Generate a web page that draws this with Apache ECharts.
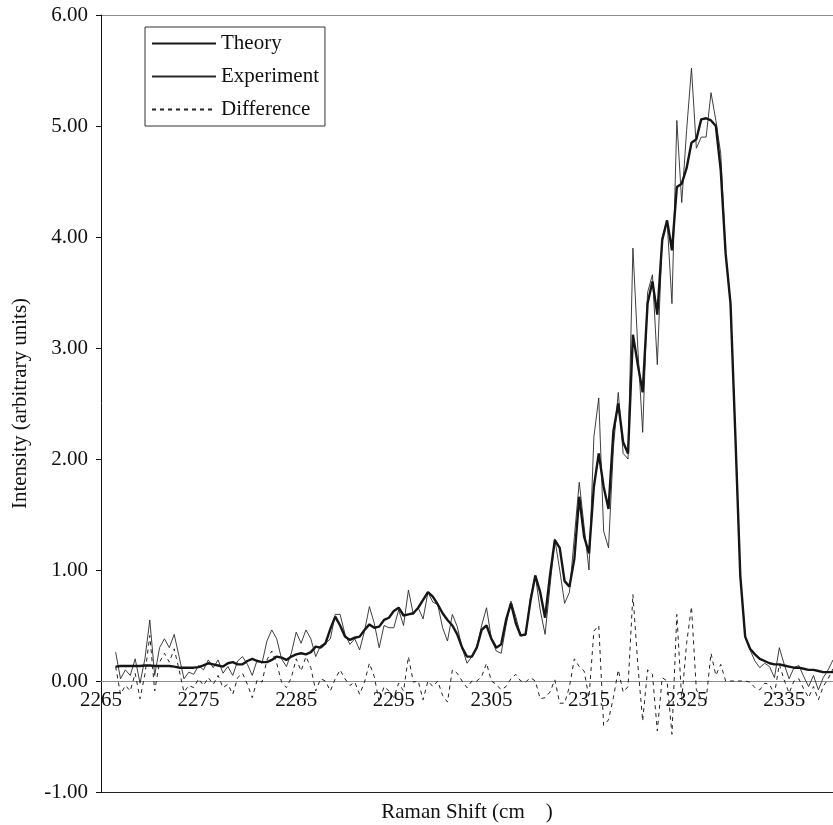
<!DOCTYPE html>
<html>
<head>
<meta charset="utf-8">
<script src="https://cdn.jsdelivr.net/npm/echarts@6/dist/echarts.min.js"></script>
<style>
  html, body { margin: 0; padding: 0; background: #ffffff; }
  #chart { width: 833px; height: 825px; }
</style>
</head>
<body>
<div id="chart"></div>
<script>
// Raman band: calculated spectrum, measured spectrum and their residual.
// Samples are spaced 0.5 cm-1 apart, starting at 2266.5 cm-1.
const FIRST_SHIFT = 2266.5;
const SHIFT_STEP = 0.5;

const theory = [
  0.13, 0.135, 0.135, 0.135, 0.135, 0.135, 0.14, 0.14, 0.135, 0.135,
  0.135, 0.135, 0.13, 0.12, 0.12, 0.12, 0.12, 0.125, 0.14, 0.16,
  0.15, 0.14, 0.13, 0.16, 0.17, 0.15, 0.15, 0.18, 0.20, 0.18,
  0.17, 0.17, 0.19, 0.22, 0.21, 0.19, 0.22, 0.24, 0.25, 0.24,
  0.26, 0.31, 0.30, 0.34, 0.47, 0.58, 0.50, 0.40, 0.37, 0.39,
  0.40, 0.46, 0.51, 0.48, 0.49, 0.55, 0.57, 0.63, 0.66, 0.59,
  0.60, 0.61, 0.66, 0.73, 0.80, 0.76, 0.69, 0.61, 0.55, 0.50,
  0.42, 0.30, 0.22, 0.22, 0.30, 0.46, 0.50, 0.38, 0.30, 0.33,
  0.55, 0.70, 0.52, 0.41, 0.42, 0.72, 0.95, 0.80, 0.57, 0.95,
  1.27, 1.20, 0.90, 0.85, 1.10, 1.66, 1.30, 1.15, 1.75, 2.05,
  1.75, 1.55, 2.25, 2.50, 2.15, 2.05, 3.12, 2.85, 2.60, 3.40,
  3.60, 3.30, 3.97, 4.15, 3.88, 4.45, 4.48, 4.62, 4.85, 4.88,
  5.06, 5.07, 5.05, 5.00, 4.60, 3.85, 3.40, 2.20, 0.95, 0.40,
  0.29, 0.24, 0.20, 0.18, 0.16, 0.15, 0.15, 0.14, 0.13, 0.12,
  0.12, 0.11, 0.10, 0.10, 0.09, 0.08, 0.08, 0.08
];

const experiment = [
  0.26, 0.02, 0.10, 0.05, 0.20, -0.02, 0.20, 0.55, 0.05, 0.30,
  0.38, 0.30, 0.42, 0.22, 0.02, 0.08, 0.06, 0.14, 0.10, 0.19,
  0.12, 0.19, 0.07, 0.13, 0.05, 0.18, 0.22, 0.15, 0.05, 0.19,
  0.16, 0.36, 0.46, 0.38, 0.20, 0.13, 0.25, 0.44, 0.34, 0.46,
  0.38, 0.22, 0.32, 0.34, 0.38, 0.60, 0.60, 0.42, 0.33, 0.38,
  0.28, 0.45, 0.67, 0.52, 0.30, 0.50, 0.48, 0.48, 0.64, 0.50,
  0.82, 0.60, 0.66, 0.56, 0.80, 0.71, 0.69, 0.48, 0.36, 0.60,
  0.49, 0.30, 0.16, 0.22, 0.30, 0.50, 0.66, 0.38, 0.27, 0.25,
  0.50, 0.72, 0.58, 0.41, 0.41, 0.75, 0.95, 0.64, 0.42, 0.85,
  1.28, 1.00, 0.70, 0.80, 1.30, 1.79, 1.39, 1.00, 2.20, 2.55,
  1.35, 1.20, 2.10, 2.60, 2.05, 2.00, 3.90, 3.00, 2.24, 3.50,
  3.66, 2.85, 4.00, 4.15, 3.40, 5.05, 4.31, 4.96, 5.52, 4.80,
  4.90, 4.90, 5.30, 5.05, 4.75, 3.85, 3.40, 2.20, 0.95, 0.40,
  0.28, 0.18, 0.12, 0.16, 0.13, 0.03, 0.30, 0.15, 0.02, 0.12,
  0.14, 0.04, -0.05, 0.05, -0.08, 0.03, 0.10, 0.19
];

const difference = [
  0.13, -0.12, -0.04, -0.09, 0.07, -0.16, 0.06, 0.41, -0.09, 0.17,
  0.25, 0.17, 0.29, 0.10, -0.10, -0.04, -0.06, 0.02, -0.04, 0.03,
  -0.03, 0.05, -0.06, -0.03, -0.12, 0.03, 0.07, -0.03, -0.15, 0.01,
  -0.01, 0.19, 0.27, 0.16, -0.01, -0.06, 0.03, 0.20, 0.09, 0.22,
  0.12, -0.09, 0.02, 0.00, -0.09, 0.02, 0.10, 0.02, -0.04, -0.01,
  -0.12, -0.01, 0.16, 0.04, -0.19, -0.05, -0.09, -0.15, -0.02, -0.09,
  0.22, -0.01, 0.00, -0.17, 0.00, -0.05, 0.00, -0.13, -0.19, 0.10,
  0.07, 0.00, -0.06, 0.00, 0.00, 0.04, 0.16, 0.00, -0.03, -0.08,
  -0.05, 0.02, 0.06, 0.00, -0.01, 0.03, 0.00, -0.16, -0.15, -0.10,
  0.01, -0.20, -0.20, -0.05, 0.20, 0.13, 0.09, -0.15, 0.45, 0.50,
  -0.40, -0.35, -0.15, 0.10, -0.10, -0.05, 0.78, 0.15, -0.36, 0.10,
  0.06, -0.45, 0.03, 0.00, -0.48, 0.60, -0.17, 0.34, 0.67, -0.08,
  -0.16, -0.17, 0.25, 0.05, 0.15, 0.00, 0.00, 0.00, 0.00, 0.00,
  -0.01, -0.06, -0.08, -0.02, -0.03, -0.12, 0.15, 0.01, -0.11, 0.00,
  0.02, -0.07, -0.15, -0.05, -0.17, -0.05, 0.02, 0.11
];

const seriesNames = ['Theory', 'Experiment', 'Difference'];
const xAxisTitle = 'Raman Shift (cm    )';
const yAxisTitle = 'Intensity (arbitrary units)';

const shifts = theory.map((_, i) => FIRST_SHIFT + i * SHIFT_STEP);
const toPairs = values => values.map((v, i) => [shifts[i], v]);

const FONT = '"Liberation Serif", "Times New Roman", serif';
const INK = '#111111';

// Plot box: 15px top, 792px bottom, 7 units tall -> 111 px per unit.
const GRID_TOP = 15;
const GRID_BOTTOM = 33;
const UNIT_PX = (825 - GRID_TOP - GRID_BOTTOM) / 7;

const chart = echarts.init(document.getElementById('chart'), null, { renderer: 'canvas' });

chart.setOption({
  animation: false,
  backgroundColor: '#ffffff',
  grid: {
    left: 101, right: 0, top: GRID_TOP, bottom: GRID_BOTTOM,
    containLabel: false, outerBoundsMode: 'none'
  },
  legend: {
    data: seriesNames,
    orient: 'vertical',
    left: 145,
    top: 27,
    padding: [6, 6, 6, 6],
    itemGap: 12,
    itemWidth: 64,
    itemHeight: 14,
    borderColor: '#333333',
    borderWidth: 1,
    backgroundColor: '#ffffff',
    selectedMode: false,
    itemStyle: { opacity: 0 },
    textStyle: { fontFamily: FONT, fontSize: 21, lineHeight: 21, color: INK }
  },
  xAxis: {
    type: 'value',
    min: 2265,
    max: 2340,
    interval: 10,
    offset: -UNIT_PX,
    name: xAxisTitle,
    nameLocation: 'middle',
    nameGap: 121,
    nameTextStyle: { fontFamily: FONT, fontSize: 21, color: INK },
    axisLine: { onZero: false, lineStyle: { color: '#8c8c8c', width: 1 } },
    axisTick: { show: false },
    axisLabel: {
      fontFamily: FONT, fontSize: 21, color: INK, margin: 9,
      showMaxLabel: false,
      formatter: v => String(v)
    },
    splitLine: { show: false }
  },
  yAxis: {
    type: 'value',
    min: -1,
    max: 6,
    interval: 1,
    name: yAxisTitle,
    nameLocation: 'middle',
    nameRotate: 90,
    nameGap: 70,
    nameTextStyle: { fontFamily: FONT, fontSize: 21, color: INK },
    axisLine: { show: true, lineStyle: { color: '#111111', width: 1 } },
    axisTick: { show: true, inside: false, length: 5, lineStyle: { color: '#111111' } },
    axisLabel: {
      fontFamily: FONT, fontSize: 21, color: INK, margin: 13,
      formatter: v => v.toFixed(2)
    },
    splitLine: {
      show: true,
      lineStyle: {
        width: 1,
        color: ['#222222', '#8c8c8c', 'rgba(0,0,0,0)', 'rgba(0,0,0,0)',
                'rgba(0,0,0,0)', 'rgba(0,0,0,0)', 'rgba(0,0,0,0)', '#8c8c8c']
      }
    }
  },
  series: [
    {
      name: 'Difference',
      type: 'line',
      data: toPairs(difference),
      symbol: 'none',
      z: 2,
      lineStyle: { color: '#222222', width: 1, type: [4, 4] },
      itemStyle: { color: '#222222' }
    },
    {
      name: 'Experiment',
      type: 'line',
      data: toPairs(experiment),
      symbol: 'none',
      z: 3,
      lineStyle: { color: '#2a2a2a', width: 0.9 },
      itemStyle: { color: '#2a2a2a' }
    },
    {
      name: 'Theory',
      type: 'line',
      data: toPairs(theory),
      symbol: 'none',
      z: 4,
      lineStyle: { color: '#161616', width: 2.4 },
      itemStyle: { color: '#161616' }
    }
  ]
});
</script>
</body>
</html>
